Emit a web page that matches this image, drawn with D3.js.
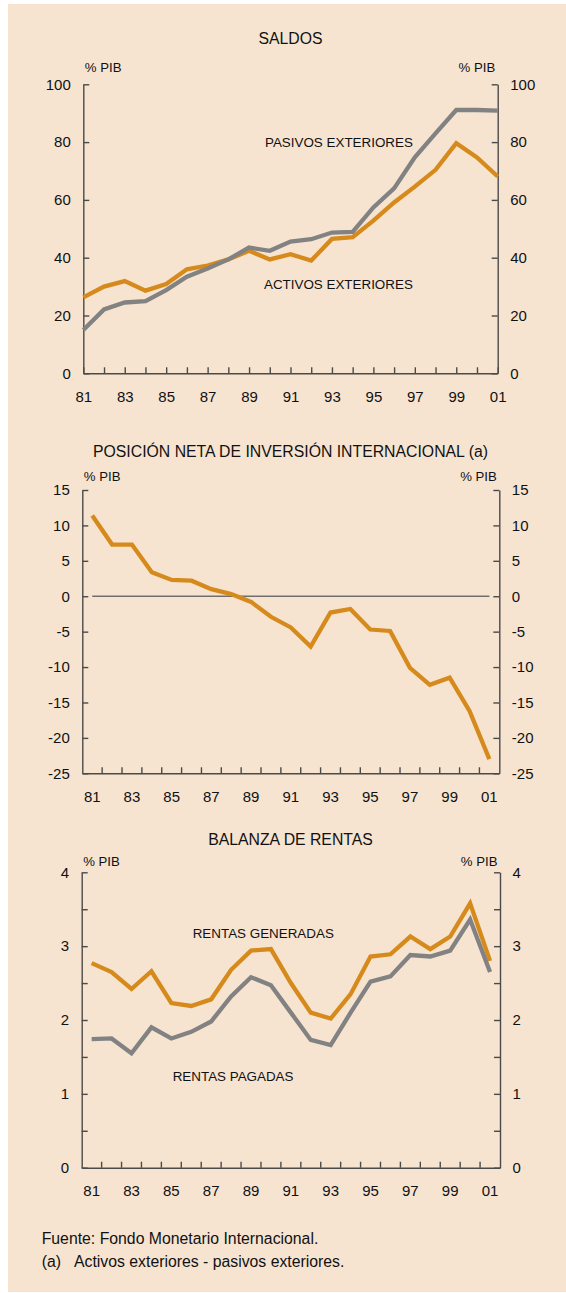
<!DOCTYPE html>
<html>
<head>
<meta charset="utf-8">
<script src="https://cdn.jsdelivr.net/npm/d3@7"></script>
<style>
  html, body { margin: 0; padding: 0; background: #fff; }
  svg { display: block; font-family: "Liberation Sans", Arial, sans-serif; }
  .axis path, .axis line { stroke: #4a4a4a; stroke-width: 1.4; }
  .axis text { fill: #111; font-size: 15px; }
</style>
</head>
<body>
<svg id="chart" width="566" height="1293"></svg>
<script>
// years 1981-2001
const YEARS = [1981, 1982, 1983, 1984, 1985, 1986, 1987, 1988, 1989, 1990, 1991,
  1992, 1993, 1994, 1995, 1996, 1997, 1998, 1999, 2000, 2001];
const LABEL_YEARS = [1981, 1983, 1985, 1987, 1989, 1991, 1993, 1995, 1997, 1999, 2001];

// Saldos (% PIB)
const pasivosExteriores = [15.0, 22.1, 24.5, 25.0, 28.8, 33.4, 36.3, 39.4, 43.5, 42.4, 45.6,
  46.4, 48.7, 48.9, 57.4, 64.0, 74.7, 83.0, 91.1, 91.1, 90.9];
const activosExteriores = [26.3, 30.0, 31.9, 28.6, 30.9, 36.0, 37.3, 39.4, 42.4, 39.4, 41.2,
  39.0, 46.5, 47.1, 52.8, 59.1, 64.6, 70.4, 79.6, 74.7, 68.1];
const saldosTicks = [0, 20, 40, 60, 80, 100];

// Posicion neta (% PIB)
const posicionNeta = [11.4, 7.3, 7.3, 3.4, 2.3, 2.2, 1.0, 0.3, -0.8, -2.9, -4.4,
  -7.1, -2.3, -1.8, -4.7, -4.9, -10.1, -12.5, -11.5, -16.2, -23.0];
const netaTicks = [15, 10, 5, 0, -5, -10, -15, -20, -25];

// Balanza de rentas (% PIB)
const rentasGeneradas = [2.77, 2.65, 2.42, 2.66, 2.23, 2.19, 2.28, 2.68, 2.94, 2.96, 2.50,
  2.10, 2.02, 2.35, 2.86, 2.89, 3.13, 2.96, 3.13, 3.58, 2.80];
const rentasPagadas = [1.74, 1.75, 1.55, 1.90, 1.75, 1.84, 1.98, 2.32, 2.58, 2.47, 2.10,
  1.73, 1.66, 2.10, 2.52, 2.59, 2.88, 2.86, 2.94, 3.36, 2.65];
const rentasTicks = [0, 0.5, 1, 1.5, 2, 2.5, 3, 3.5, 4];

const ORANGE = "#d68a1c";
const GREY = "#828282";
const BG = "#f6e4d1";

const svg = d3.select("#chart");
svg.append("rect").attr("x", 8).attr("y", 4).attr("width", 558).attr("height", 1288).attr("fill", BG);

const yrLabel = (d) => String(d).slice(2);
const plain = (d) => String(d); // keeps a plain hyphen for negatives
const TICK = 6;

function yAxes(g, y, left, right, ticks, fmt) {
  g.append("g").attr("class", "axis").attr("transform", `translate(${left},0)`)
    .call(d3.axisLeft(y).tickValues(ticks).tickSizeInner(-TICK).tickSizeOuter(0).tickPadding(12.5).tickFormat(fmt));
  g.append("g").attr("class", "axis").attr("transform", `translate(${right},0)`)
    .call(d3.axisRight(y).tickValues(ticks).tickSizeInner(-TICK).tickSizeOuter(0).tickPadding(12.5).tickFormat(fmt));
}

function header(g, title, titleY, pibY, left, right, cx) {
  g.append("text").attr("x", cx).attr("y", titleY).attr("text-anchor", "middle")
    .attr("font-size", 15.8).attr("fill", "#111").text(title);
  g.append("text").attr("x", left + 1.5).attr("y", pibY).attr("font-size", 13.2).attr("fill", "#111").text("% PIB");
  g.append("text").attr("x", right - 2.5).attr("y", pibY).attr("text-anchor", "end")
    .attr("font-size", 13.2).attr("fill", "#111").text("% PIB");
}

function drawLine(g, xf, y, values, color) {
  g.append("path")
    .datum(values)
    .attr("fill", "none")
    .attr("stroke", color)
    .attr("stroke-width", 4.3)
    .attr("stroke-linejoin", "miter")
    .attr("d", d3.line().x((d, i) => xf(YEARS[i])).y((d) => y(d)));
}

function seriesLabel(g, x, y, text) {
  g.append("text").attr("x", x).attr("y", y).attr("dy", "0.35em")
    .attr("font-size", 13.4).attr("fill", "#111").text(text);
}

// ---------- SALDOS ----------
{
  const left = 83.3, right = 497.7, top = 84.3, bottom = 373.3;
  const g = svg.append("g");
  const x = d3.scaleLinear().domain([1981, 2001]).range([left, right]);
  const y = d3.scaleLinear().domain([0, 100]).range([bottom, top]);
  header(g, "SALDOS", 44, 72, left, right, 290.5);
  yAxes(g, y, left, right, saldosTicks, plain);
  g.append("g").attr("class", "axis").attr("transform", `translate(0,${bottom})`)
    .call(d3.axisBottom(x).tickValues(YEARS).tickSizeInner(-TICK).tickSizeOuter(0).tickPadding(18)
      .tickFormat((d) => (LABEL_YEARS.includes(d) ? yrLabel(d) : "")));
  drawLine(g, x, y, activosExteriores, ORANGE);
  drawLine(g, x, y, pasivosExteriores, GREY);
  seriesLabel(g, 265, 142.3, "PASIVOS EXTERIORES");
  seriesLabel(g, 264, 284, "ACTIVOS EXTERIORES");
}

function bandXAxis(g, xb, bottom) {
  const ax = g.append("g").attr("class", "axis").attr("transform", `translate(0,${bottom})`);
  ax.call(d3.axisBottom(xb).tickValues(LABEL_YEARS).tickSize(0).tickPadding(18).tickFormat(yrLabel));
  ax.selectAll(".tick-b").data(YEARS.slice(1)).join("line")
    .attr("x1", (d) => xb(d)).attr("x2", (d) => xb(d))
    .attr("y1", 0).attr("y2", -TICK);
}

// ---------- POSICION NETA ----------
{
  const left = 82.3, right = 499.3, top = 490, bottom = 773.3;
  const g = svg.append("g");
  const xb = d3.scaleBand().domain(YEARS).range([left, right]).padding(0);
  const xc = (d) => xb(d) + xb.bandwidth() / 2;
  const y = d3.scaleLinear().domain([-25, 15]).range([bottom, top]);
  header(g, "POSICIÓN NETA DE INVERSIÓN INTERNACIONAL (a)", 457, 481, left, right, 290.5);
  yAxes(g, y, left, right, netaTicks, plain);
  bandXAxis(g, xb, bottom);
  g.append("line").attr("x1", xc(YEARS[0])).attr("x2", xc(YEARS[YEARS.length - 1]))
    .attr("y1", y(0)).attr("y2", y(0)).attr("stroke", "#6e6e6e").attr("stroke-width", 1.3);
  drawLine(g, xc, y, posicionNeta, ORANGE);
}

// ---------- BALANZA DE RENTAS ----------
{
  const left = 81.7, right = 500, top = 872.3, bottom = 1167.7;
  const g = svg.append("g");
  const xb = d3.scaleBand().domain(YEARS).range([left, right]).padding(0);
  const xc = (d) => xb(d) + xb.bandwidth() / 2;
  const y = d3.scaleLinear().domain([0, 4]).range([bottom, top]);
  header(g, "BALANZA DE RENTAS", 845, 866, left, right, 290.5);
  yAxes(g, y, left, right, rentasTicks, (d) => (Number.isInteger(d) ? d : ""));
  bandXAxis(g, xb, bottom);
  drawLine(g, xc, y, rentasGeneradas, ORANGE);
  drawLine(g, xc, y, rentasPagadas, GREY);
  seriesLabel(g, 192.7, 933.3, "RENTAS GENERADAS");
  seriesLabel(g, 172.7, 1076.7, "RENTAS PAGADAS");
}

// ---------- footer ----------
svg.append("text").attr("x", 41.7).attr("y", 1243.5).attr("font-size", 15.8).attr("fill", "#111")
  .text("Fuente: Fondo Monetario Internacional.");
svg.append("text").attr("x", 41.7).attr("y", 1266.5).attr("font-size", 15.8).attr("fill", "#111").text("(a)");
svg.append("text").attr("x", 74).attr("y", 1266.5).attr("font-size", 15.8).attr("fill", "#111")
  .text("Activos exteriores - pasivos exteriores.");
</script>
</body>
</html>
